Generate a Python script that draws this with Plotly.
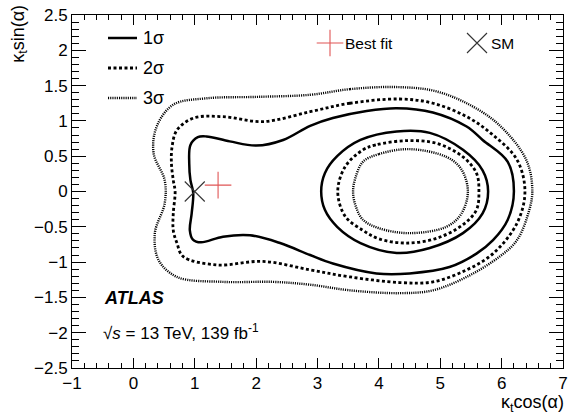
import plotly.graph_objects as go

# ---------------- data ----------------
# 1 sigma contour: outer boundary and inner hole
s1_out_x = [4.29, 3.80, 3.25, 2.88, 2.44, 2.00, 1.57, 1.19, 1.05, 0.93, 0.91, 0.93, 0.975, 0.95, 0.92, 0.97, 1.10, 1.46, 1.90, 2.39, 2.88, 3.25, 3.96, 4.50, 5.15, 5.59, 5.86, 6.10, 6.20, 6.10, 5.69, 5.43, 4.88, 4.29]
s1_out_y = [1.18, 1.14, 1.04, 0.93, 0.73, 0.65, 0.71, 0.78, 0.77, 0.66, 0.40, 0.16, -0.02, -0.31, -0.55, -0.68, -0.72, -0.64, -0.62, -0.73, -0.90, -1.02, -1.16, -1.16, -1.07, -0.88, -0.69, -0.40, 0.00, 0.42, 0.73, 0.92, 1.12, 1.18]
s1_in_x = [4.29, 3.70, 3.32, 3.12, 3.06, 3.12, 3.32, 3.70, 4.29, 4.83, 5.37, 5.69, 5.78, 5.69, 5.37, 4.83, 4.29]
s1_in_y = [0.85, 0.73, 0.50, 0.26, 0.00, -0.26, -0.50, -0.73, -0.87, -0.80, -0.59, -0.31, 0.00, 0.30, 0.59, 0.83, 0.85]

# 2 sigma contour
s2_out_x = [4.34, 3.53, 2.88, 2.11, 1.46, 0.98, 0.71, 0.63, 0.62, 0.65, 0.68, 0.65, 0.65, 0.71, 0.81, 1.36, 2.11, 2.88, 3.53, 4.34, 4.88, 5.43, 5.86, 6.25, 6.38, 6.25, 5.86, 5.43, 4.88, 4.34]
s2_out_y = [1.31, 1.25, 1.13, 0.99, 1.06, 1.04, 0.87, 0.63, 0.40, 0.16, 0.00, -0.31, -0.55, -0.73, -0.92, -1.04, -0.99, -1.11, -1.21, -1.29, -1.28, -1.11, -0.88, -0.45, 0.00, 0.45, 0.80, 1.06, 1.25, 1.31]
s2_in_x = [4.45, 3.95, 3.74, 3.45, 3.33, 3.45, 3.74, 4.00, 4.45, 4.95, 5.37, 5.59, 5.63, 5.59, 5.37, 4.95, 4.45]
s2_in_y = [0.72, 0.66, 0.59, 0.35, 0.00, -0.35, -0.55, -0.67, -0.73, -0.66, -0.47, -0.26, 0.00, 0.26, 0.49, 0.68, 0.72]

# 3 sigma contour
s3_out_x = [4.23, 3.53, 2.88, 2.00, 1.19, 0.65, 0.38, 0.33, 0.51, 0.51, 0.35, 0.41, 0.71, 1.46, 2.28, 2.88, 3.53, 4.34, 4.88, 5.43, 5.97, 6.25, 6.42, 6.50, 6.40, 5.95, 5.43, 4.88, 4.23]
s3_out_y = [1.48, 1.45, 1.37, 1.34, 1.32, 1.23, 0.92, 0.54, 0.16, -0.17, -0.59, -0.97, -1.21, -1.28, -1.28, -1.32, -1.40, -1.44, -1.40, -1.21, -0.92, -0.69, -0.35, 0.00, 0.45, 0.95, 1.25, 1.43, 1.48]
s3_in_x = [4.50, 4.00, 3.74, 3.62, 3.58, 3.62, 3.74, 4.00, 4.50, 5.10, 5.34, 5.45, 5.34, 5.10, 4.50]
s3_in_y = [0.60, 0.53, 0.42, 0.20, 0.00, -0.20, -0.40, -0.52, -0.59, -0.50, -0.32, 0.00, 0.32, 0.49, 0.60]

best_fit_x = [1.38]
best_fit_y = [0.09]
sm_x = [1.0]
sm_y = [0.0]

x_ticks = [-1, 0, 1, 2, 3, 4, 5, 6, 7]
y_ticks = [-2.5, -2, -1.5, -1, -0.5, 0, 0.5, 1, 1.5, 2, 2.5]

FONT = "Liberation Sans"
SOLID = dict(color="black", width=2.5, shape="spline", smoothing=1.0)
DASHED = dict(color="black", width=2.8, dash="3px,2.5px", shape="spline", smoothing=1.0)
DOTTED = dict(color="black", width=2.4, dash="1.1px,1.1px", shape="spline", smoothing=1.0)

fig = go.Figure()
for xs, ys, ln in [
    (s3_out_x, s3_out_y, DOTTED), (s3_in_x, s3_in_y, DOTTED),
    (s2_out_x, s2_out_y, DASHED), (s2_in_x, s2_in_y, DASHED),
    (s1_out_x, s1_out_y, SOLID), (s1_in_x, s1_in_y, SOLID),
]:
    fig.add_trace(go.Scatter(x=xs, y=ys, mode="lines", line=ln,
                             showlegend=False, hoverinfo="skip"))

fig.add_trace(go.Scatter(x=sm_x, y=sm_y, mode="markers", showlegend=False,
                         marker=dict(symbol="x-thin", size=20,
                                     line=dict(color="#333333", width=1.1))))
fig.add_trace(go.Scatter(x=best_fit_x, y=best_fit_y, mode="markers", showlegend=False,
                         marker=dict(symbol="cross-thin", size=19,
                                     line=dict(color="#e05555", width=1.1))))

# ---- hand-drawn legend on an overlay axis in pixel units ----
leg_lines = [(38, SOLID, "1σ"), (68, DASHED, "2σ"), (98, DOTTED, "3σ")]
for yy, ln, lab in leg_lines:
    l2 = {k: v for k, v in ln.items() if k not in ("shape", "smoothing")}
    fig.add_trace(go.Scatter(x=[108, 137], y=[yy, yy], mode="lines", line=l2,
                             xaxis="x2", yaxis="y2", showlegend=False, hoverinfo="skip"))
    fig.add_annotation(x=141, y=yy, xref="x2", yref="y2", text=lab, showarrow=False,
                       xanchor="left", yanchor="middle",
                       font=dict(family=FONT, size=18, color="black"))
fig.add_trace(go.Scatter(x=[330], y=[43], mode="markers", xaxis="x2", yaxis="y2",
                         showlegend=False,
                         marker=dict(symbol="cross-thin", size=19,
                                     line=dict(color="#e05555", width=1.1))))
fig.add_annotation(x=343, y=43, xref="x2", yref="y2", text="Best fit", showarrow=False,
                   xanchor="left", yanchor="middle",
                   font=dict(family=FONT, size=15.5, color="black"))
fig.add_trace(go.Scatter(x=[477], y=[43], mode="markers", xaxis="x2", yaxis="y2",
                         showlegend=False,
                         marker=dict(symbol="x-thin", size=20,
                                     line=dict(color="#333333", width=1.1))))
fig.add_annotation(x=489, y=43, xref="x2", yref="y2", text="SM", showarrow=False,
                   xanchor="left", yanchor="middle",
                   font=dict(family=FONT, size=15.5, color="black"))

# ATLAS labels
fig.add_annotation(x=102, y=298, xref="x2", yref="y2", text="<b><i>ATLAS</i></b>",
                   showarrow=False, xanchor="left", yanchor="middle",
                   font=dict(family=FONT, size=18, color="black"))
fig.add_annotation(x=101, y=332, xref="x2", yref="y2",
                   text="√<i>s</i> = 13 TeV, 139 fb<sup>-1</sup>",
                   showarrow=False, xanchor="left", yanchor="middle",
                   font=dict(family=FONT, size=17, color="black"))

# axis titles
fig.add_annotation(x=1.005, y=-0.136, xref="paper", yref="paper",
                   text="κ<sub>t</sub>cos(α)", showarrow=False,
                   xanchor="right", yanchor="bottom", borderpad=0,
                   font=dict(family=FONT, size=18, color="black"))
fig.add_annotation(x=-0.135, y=1.035, xref="paper", yref="paper",
                   text="κ<sub>t</sub>sin(α)", showarrow=False, textangle=-90,
                   xanchor="left", yanchor="top",
                   font=dict(family=FONT, size=18, color="black"))

axis_common = dict(showline=True, linecolor="black", linewidth=1, mirror="ticks",
                   ticks="inside", tickcolor="black", tickwidth=1,
                   showgrid=False, zeroline=False, automargin=False,
                   tickfont=dict(family=FONT, size=17, color="black"))

fig.update_layout(
    width=573, height=416,
    margin=dict(l=72, r=10, t=15, b=48, autoexpand=False),
    paper_bgcolor="white", plot_bgcolor="white",
    showlegend=False,
    xaxis=dict(range=[-1, 7], tickvals=x_ticks, ticklen=10,
               minor=dict(dtick=0.2, ticklen=5, ticks="inside", tickcolor="black", tickwidth=1),
               **axis_common),
    yaxis=dict(range=[-2.5, 2.5], tickvals=y_ticks, ticklen=14,
               minor=dict(dtick=0.1, ticklen=7, ticks="inside", tickcolor="black", tickwidth=1),
               **axis_common),
    xaxis2=dict(range=[72, 563], overlaying="x", anchor="y2", visible=False),
    yaxis2=dict(range=[368, 15], overlaying="y", anchor="x2", visible=False),
)

fig.write_html("out.html", config={"displayModeBar": False},
               post_script="document.body.style.margin='0';document.body.style.overflow='hidden';")
